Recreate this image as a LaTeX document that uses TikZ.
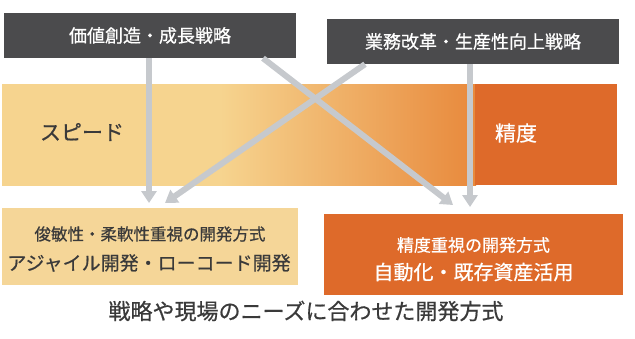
\documentclass[tikz,border=0pt]{standalone}
\usepackage{fontspec}
\newfontfamily\jp[FakeBold=0.6]{Noto Sans CJK JP}
\usetikzlibrary{arrows.meta,calc}
\definecolor{darkbox}{HTML}{4B4B4D}
\definecolor{lightor}{HTML}{F6D48F}
\definecolor{midor}{HTML}{E8893C}
\definecolor{deepor}{HTML}{DE6A2A}
\definecolor{sandbox}{HTML}{F5D698}
\definecolor{arrowgray}{HTML}{C6C9CD}
\definecolor{txtdark}{HTML}{3A3A3A}
\pgfdeclarehorizontalshading{bandshade}{100bp}{color(0bp)=(lightor); color(25bp)=(lightor); color(48bp)=(lightor); color(75bp)=(midor); color(100bp)=(midor)}
\begin{document}
\begin{tikzpicture}[x=1pt,y=-1pt,
  topbox/.style={fill=darkbox,text=white,minimum width=292pt,minimum height=45pt,inner sep=0pt,font=\jp\fontsize{18}{20}\selectfont},
  lowbox/.style={inner sep=0pt},
  conn/.style={draw=arrowgray,line width=6pt,-{Triangle[width=15pt,length=12pt]}},
  lbl/.style={inner sep=0pt}]
\useasboundingbox (0,0) rectangle (635,338);
% band
\shade[shading=bandshade] (2,84) rectangle (476,185);
\fill[deepor] (475,84) rectangle (617,185);
\node[lbl,text=txtdark,font=\jp\fontsize{21}{24}\selectfont] (speed) at (82,132) {スピード};
\node[lbl,text=white,font=\jp\fontsize{21}{24}\selectfont] (seido) at (516,133) {精度};
% top boxes
\node[topbox] (tl) at (150,35.5) {価値創造・成長戦略};
\node[topbox] (tr) at (473,41.5) {業務改革・生産性向上戦略};
% bottom boxes
\node[lowbox,fill=sandbox,minimum width=296pt,minimum height=77pt] (bl) at (150,246.5) {};
\node[lbl,text=txtdark,font=\jp\fontsize{16.5}{18}\selectfont] (bl1) at (150,234) {俊敏性・柔軟性重視の開発方式};
\node[lbl,text=txtdark,font=\jp\fontsize{19}{22}\selectfont] (bl2) at (149,263) {アジャイル開発・ローコード開発};
\node[lowbox,fill=deepor,minimum width=299pt,minimum height=81pt] (br) at (473.5,254.5) {};
\node[lbl,text=white,font=\jp\fontsize{17}{19}\selectfont] (br1) at (473.5,245) {精度重視の開発方式};
\node[lbl,text=white,font=\jp\fontsize{20}{22}\selectfont] (br2) at (473.5,272) {自動化・既存資産活用};
% caption
\node[lbl,text=txtdark,font=\jp\fontsize{22}{24}\selectfont] (cap) at (306,311) {戦略や現場のニーズに合わせた開発方式};
% arrow tips
\coordinate (t1) at (149,203);
\coordinate (t2) at (453,205);
\coordinate (t3) at (165,203);
\coordinate (t4) at (470,207);
\draw[conn] ([xshift=-1pt]tl.south) -- (t1);
\draw[conn] ([xshift=113pt]tl.south) -- (t2);
\draw[conn] ([xshift=-108pt]tr.south) -- (t3);
\draw[conn] ([xshift=-3pt]tr.south) -- (t4);
\end{tikzpicture}
\end{document}
